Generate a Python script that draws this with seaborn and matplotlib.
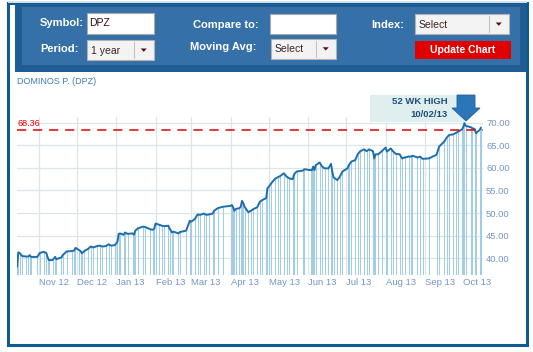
import pandas as pd, numpy as np
from matplotlib import pyplot as plt
from matplotlib.patches import Rectangle, Polygon
import matplotlib.dates as mdates
import seaborn as sns

#%% data (DPZ, 1 year)

dates = ['2012-10-15', '2012-10-16', '2012-10-17', '2012-10-19', '2012-10-22', '2012-10-24',
         '2012-10-25', '2012-10-26', '2012-10-31', '2012-11-02', '2012-11-05', '2012-11-07',
         '2012-11-08', '2012-11-09', '2012-11-12', '2012-11-14', '2012-11-15', '2012-11-19',
         '2012-11-20', '2012-11-23', '2012-11-27', '2012-11-29', '2012-11-30', '2012-12-03',
         '2012-12-04', '2012-12-05', '2012-12-07', '2012-12-10', '2012-12-12', '2012-12-14',
         '2012-12-17', '2012-12-19', '2012-12-21', '2012-12-24', '2012-12-26', '2012-12-28',
         '2012-12-31', '2013-01-02', '2013-01-03', '2013-01-04', '2013-01-07', '2013-01-08',
         '2013-01-10', '2013-01-14', '2013-01-15', '2013-01-16', '2013-01-18', '2013-01-22',
         '2013-01-24', '2013-01-28', '2013-01-30', '2013-01-31', '2013-02-01', '2013-02-04',
         '2013-02-06', '2013-02-08', '2013-02-11', '2013-02-12', '2013-02-14', '2013-02-15',
         '2013-02-19', '2013-02-20', '2013-02-25', '2013-02-28', '2013-03-01', '2013-03-04',
         '2013-03-06', '2013-03-08', '2013-03-11', '2013-03-13', '2013-03-15', '2013-03-18',
         '2013-03-19', '2013-03-22', '2013-03-26', '2013-04-01', '2013-04-02', '2013-04-03',
         '2013-04-04', '2013-04-05', '2013-04-08', '2013-04-09', '2013-04-10', '2013-04-11',
         '2013-04-12', '2013-04-15', '2013-04-17', '2013-04-19', '2013-04-22', '2013-04-24',
         '2013-04-26', '2013-04-29', '2013-04-30', '2013-05-01', '2013-05-03', '2013-05-06',
         '2013-05-08', '2013-05-10', '2013-05-13', '2013-05-15', '2013-05-17', '2013-05-20',
         '2013-05-21', '2013-05-23', '2013-05-28', '2013-05-29', '2013-06-03', '2013-06-04',
         '2013-06-05', '2013-06-06', '2013-06-07', '2013-06-10', '2013-06-12', '2013-06-14',
         '2013-06-17', '2013-06-19', '2013-06-20', '2013-06-21', '2013-06-24', '2013-06-26',
         '2013-06-28', '2013-07-02', '2013-07-03', '2013-07-05', '2013-07-08', '2013-07-10',
         '2013-07-12', '2013-07-15', '2013-07-17', '2013-07-19', '2013-07-22', '2013-07-23',
         '2013-07-24', '2013-07-26', '2013-07-29', '2013-08-01', '2013-08-02', '2013-08-05',
         '2013-08-07', '2013-08-09', '2013-08-12', '2013-08-14', '2013-08-16', '2013-08-19',
         '2013-08-21', '2013-08-22', '2013-08-26', '2013-08-28', '2013-08-30', '2013-09-04',
         '2013-09-10', '2013-09-12', '2013-09-16', '2013-09-18', '2013-09-20', '2013-09-23',
         '2013-09-25', '2013-09-27', '2013-09-30', '2013-10-01', '2013-10-02', '2013-10-03',
         '2013-10-07', '2013-10-08', '2013-10-10', '2013-10-11', '2013-10-14', '2013-10-15']

prices = [38.1, 41.3, 41.2, 40.5, 40.4, 40.4,
          40.7, 40.3, 40.3, 41.2, 41.4, 41.2,
          40.3, 39.6, 39.6, 40.3, 39.8, 40.2,
          40.7, 41.5, 41.6, 41.7, 42.3, 41.8,
          41.6, 41.1, 41.6, 42.1, 42.6, 42.4,
          42.7, 42.8, 42.6, 42.7, 43.1, 42.8,
          42.9, 43.7, 45.4, 45.5, 45.2, 45.7,
          45.4, 45.5, 45.2, 46.1, 46.6, 47.0,
          46.9, 46.4, 46.3, 46.6, 47.7, 47.4,
          47.2, 47.1, 47.2, 46.6, 45.7, 45.9,
          45.5, 45.8, 46.1, 48.3, 48.1, 48.7,
          49.7, 49.6, 49.9, 49.6, 49.7, 49.9,
          50.5, 51.1, 51.4, 51.6, 51.8, 51.3,
          50.5, 50.9, 51.1, 51.4, 52.7, 52.2,
          51.4, 50.2, 50.5, 50.9, 51.3, 52.5,
          52.9, 53.3, 55.5, 55.8, 56.6, 57.6,
          57.9, 58.2, 58.8, 58.1, 57.7, 57.5,
          58.6, 59.2, 59.4, 59.7, 59.5, 59.5,
          60.3, 59.5, 60.6, 61.2, 60.3, 59.9,
          59.9, 60.9, 59.2, 57.9, 57.3, 58.1,
          59.2, 59.9, 60.6, 61.4, 61.7, 63.0,
          63.7, 64.1, 63.7, 64.1, 63.7, 62.1,
          63.0, 63.0, 63.7, 64.5, 63.6, 64.3,
          63.6, 63.1, 63.0, 62.1, 62.3, 62.5,
          62.5, 62.7, 62.3, 62.5, 62.0, 62.1,
          62.9, 64.7, 65.8, 66.7, 67.3, 67.4,
          67.7, 68.0, 68.5, 69.0, 69.9, 69.3,
          69.0, 68.8, 68.6, 67.7, 68.4, 68.9]

month_starts = ['2012-11-01', '2012-12-01', '2013-01-01', '2013-02-01', '2013-03-01', '2013-04-01',
                '2013-05-01', '2013-06-01', '2013-07-01', '2013-08-01', '2013-09-01', '2013-10-01']
month_labels = ['Nov 12', 'Dec 12', 'Jan 13', 'Feb 13', 'Mar 13', 'Apr 13',
                'May 13', 'Jun 13', 'Jul 13', 'Aug 13', 'Sep 13', 'Oct 13']
price_ticks = [40, 45, 50, 55, 60, 65, 70]
ref_price = 68.36

df = pd.DataFrame({'date': pd.to_datetime(dates), 'price': prices})

#%% figure

sns.set_style("white")
plt.rcParams['font.family'] = ['Liberation Sans', 'DejaVu Sans']

W, H = 533, 352
fig = plt.figure(figsize=(W / 100, H / 100), dpi=100)

def box(x0, y0, x1, y1, **kw):
    # rectangle in pixel coords (origin top-left)
    r = Rectangle((x0 / W, 1 - y1 / H), (x1 - x0) / W, (y1 - y0) / H,
                  transform=fig.transFigure, **kw)
    fig.patches.append(r)

def txt(x, y, s, **kw):
    fig.text(x / W, 1 - y / H, s, va='center', **kw)

# page frame
box(8, 3, 527, 345, fill=False, edgecolor='#0f5b93', lw=2.2)
box(8, 1, 527, 3, facecolor='#d4e0ea', edgecolor='none')

# header panel
box(15, 4, 526, 72, facecolor='#1f5c93', edgecolor='none')
box(22, 7, 520, 65, facecolor='#3670a8', edgecolor='none')

lab = dict(color='white', fontsize=8, fontweight='bold', ha='right')
txt(83.5, 23.5, 'Symbol:', **lab)
txt(78.5, 49, 'Period:', **lab)
txt(259, 24.5, 'Compare to:', **lab)
txt(256, 47.5, 'Moving Avg:', **lab)
txt(404.5, 24.5, 'Index:', **lab)

# inputs
box(87, 13, 153.5, 33.5, facecolor='white', edgecolor='#a9a9a9', lw=0.8)
txt(89, 23.5, 'DPZ', color='#2b0d0d', fontsize=7.5)
box(269.5, 13.5, 336, 34, facecolor='white', edgecolor='#a9a9a9', lw=0.8)

def dropdown(x0, y0, x1, y1, sep, label):
    box(x0, y0, x1, y1, facecolor='#f3f3f3', edgecolor='#b3b3b3', lw=0.8)
    fig.add_artist(plt.Line2D([sep / W, sep / W], [1 - (y0 + 2) / H, 1 - (y1 - 2) / H],
                              color='#c4c4c4', lw=0.8))
    cx, cy = (sep + x1) / 2, (y0 + y1) / 2
    tri = Polygon([((cx - 3) / W, 1 - (cy - 1.5) / H), ((cx + 3) / W, 1 - (cy - 1.5) / H),
                   (cx / W, 1 - (cy + 1.8) / H)], closed=True, transform=fig.transFigure,
                  facecolor='#5a0b0b', edgecolor='none')
    fig.patches.append(tri)
    txt(x0 + 4, (y0 + y1) / 2 + 0.5, label, color='#3a2323', fontsize=7.5)

dropdown(87, 40, 153.5, 60, 134, '1 year')
dropdown(270.5, 39, 336, 58.5, 315.5, 'Select')
dropdown(414.5, 14, 509, 34, 488.5, 'Select')

# update button
box(414.5, 41, 511, 58.5, facecolor='#e00000', edgecolor='none')
txt(462.8, 50, 'Update Chart', color='white', fontsize=7.5, fontweight='bold', ha='center')

# chart title
txt(17, 82, 'DOMINOS P. (DPZ)', color='#3d7dbd', fontsize=6.5)

#%% price chart

ax = fig.add_axes([17 / W, 1 - 275 / H, (482.6 - 17) / W, (275 - 117) / H])
ax.set_facecolor('none')
y_lo, y_hi = 36.3, 71.26

ax.vlines(df['date'], y_lo, df['price'], color='#a3cde6', lw=0.75, zorder=2)
sns.lineplot(data=df, x='date', y='price', ax=ax, color='#1d6eae', lw=1.4, zorder=3)
ax.axhline(ref_price, color='#e30000', lw=1.1, dashes=(6, 4.5), zorder=4)

ax.set_xlim(pd.Timestamp('2012-10-15'), pd.Timestamp('2013-10-16 06:00'))
ax.set_ylim(y_lo, y_hi)

ax.set_xticks(pd.to_datetime(month_starts))
ax.set_xticklabels(month_labels, ha='left')
ax.yaxis.tick_right()
ax.set_yticks(price_ticks)
ax.set_yticklabels([f'{v:.2f}' for v in price_ticks])
ax.tick_params(axis='x', length=0, pad=2.5, labelsize=6.8, labelcolor='#7497c3')
ax.tick_params(axis='y', length=0, pad=2.5, labelsize=6.8, labelcolor='#7497c3')
ax.set_xlabel('')
ax.set_ylabel('')
ax.grid(True, color='#dbe6ea', lw=0.9, zorder=0)
ax.set_axisbelow(True)
sns.despine(ax=ax, left=True, bottom=True, right=True, top=True)

ax.text(0.0, ref_price + 0.45, f'{ref_price:.2f}', transform=ax.get_yaxis_transform(),
        color='#e30000', fontsize=6.5, va='bottom', ha='left')

# 52 wk high callout
box(370, 95, 462, 122, facecolor='#dfeeee', edgecolor='none')
txt(448, 101.5, '52 WK HIGH', color='#1f4e7c', fontsize=6.8, fontweight='bold', ha='right')
txt(448, 114.5, '10/02/13', color='#1f4e7c', fontsize=6.8, fontweight='bold', ha='right')
arrow = [(457, 95), (475, 95), (475, 108), (480, 108), (466, 121), (452, 108), (457, 108)]
fig.patches.append(Polygon([(x / W, 1 - y / H) for x, y in arrow], closed=True,
                           transform=fig.transFigure, facecolor='#2a76b8', edgecolor='#1f629c', lw=0.6))

plt.savefig("out.png", dpi=100)
